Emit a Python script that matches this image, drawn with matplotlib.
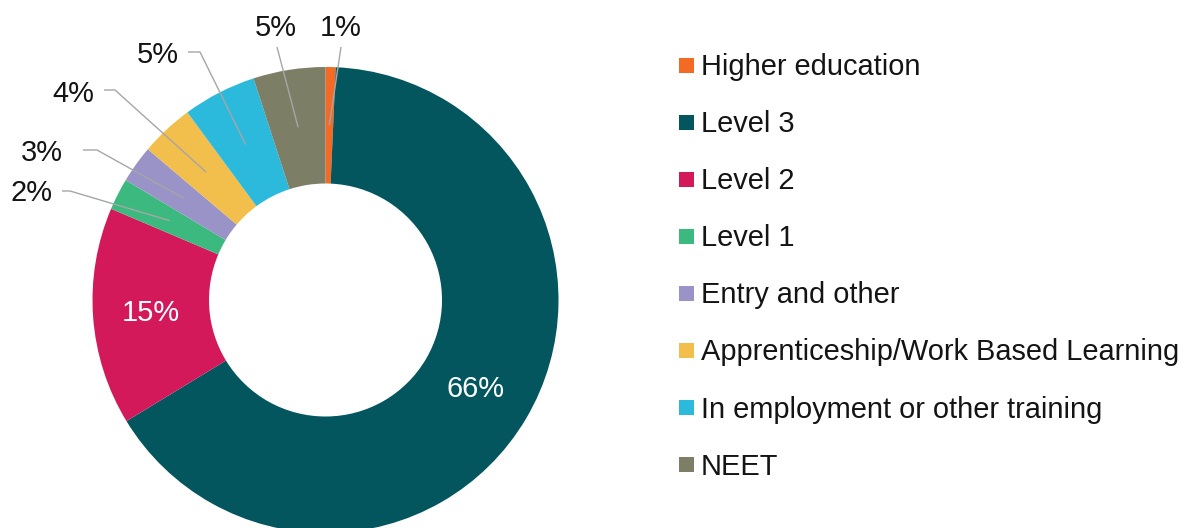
import numpy as np
import matplotlib
matplotlib.use("Agg")
import matplotlib.pyplot as plt
from matplotlib.patches import Rectangle

categories = ["Higher education", "Level 3", "Level 2", "Level 1", "Entry and other",
              "Apprenticeship/Work Based Learning", "In employment or other training", "NEET"]
values = [0.7, 65.6, 15.1, 2.2, 2.6, 3.7, 5.1, 5.0]
colors = ["#F26A24", "#03565E", "#D4195A", "#3CB97E", "#9A93C8", "#F2BE4C", "#2BBADB", "#7D7E66"]

W, H = 1196, 528
plt.rcParams['font.family'] = ['Liberation Sans', 'DejaVu Sans']
fig = plt.figure(figsize=(W / 100, H / 100), dpi=100)
ax = fig.add_axes([0, 0, 1, 1])

def Y(y):
    return H - y

cx, cy, R = 325.5, Y(300), 233
wedges, _ = ax.pie(values, colors=colors, startangle=90, counterclock=False,
                   center=(cx, cy), radius=R, wedgeprops=dict(width=R * 0.5, linewidth=0))
ax.set_xlim(0, W)
ax.set_ylim(0, H)
ax.set_aspect('equal')
ax.axis('off')

FS = 20.9
labels = [f"{v:.0f}%" for v in values]

def ring_point(i, frac=0.75):
    w = wedges[i]
    ang = np.deg2rad((w.theta1 + w.theta2) / 2)
    return cx + frac * R * np.cos(ang), cy + frac * R * np.sin(ang)

# inside labels (white)
for i in (1, 2):
    x, y = ring_point(i)
    ax.text(x, y, labels[i], color="white", fontsize=FS, ha="center", va="center")

# outside labels with leader lines: (text center x, baseline y), line start / elbow
outside = {
    0: ((340.5, 36), [(341, 47)]),
    7: ((276, 36), [(277, 47)]),
    6: ((157.5, 63), [(188, 52), (200, 52)]),
    5: ((73, 102), [(104, 90), (115, 90)]),
    4: ((42, 161), [(83, 150), (97, 150)]),
    3: ((31, 201), [(62, 191), (70, 191)]),
}
for i, ((tx, ty), pts) in outside.items():
    ax.text(tx, Y(ty), labels[i], color="#141414", fontsize=FS, ha="center", va="baseline")
    ex, ey = ring_point(i)
    xs = [p[0] for p in pts] + [ex]
    ys = [Y(p[1]) for p in pts] + [ey]
    ax.plot(xs, ys, color="#A6A6A6", lw=1.0, solid_capstyle="butt")

# legend
for k, (lab, col) in enumerate(zip(categories, colors)):
    yc = 65 + k * 57.1
    ax.add_patch(Rectangle((679, Y(yc + 7.5)), 15, 15, facecolor=col, edgecolor="none"))
    ax.text(701, Y(yc + 10), lab, fontsize=FS, color="#141414", ha="left", va="baseline")

fig.savefig("out.png", dpi=100)
